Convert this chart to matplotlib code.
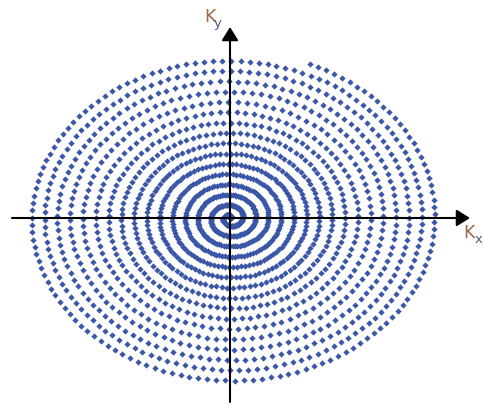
import numpy as np
import matplotlib
matplotlib.use("Agg")
import matplotlib.pyplot as plt

# Spiral k-space trajectory parameters (normalized k-space units)
n_turns = 16.19          # number of revolutions from centre to edge
arc_step = 0.044         # sample spacing along the trajectory (outer region)
max_angle_step = 0.065   # angular step cap (dense centre region)
semi_axis_x = 1.0        # kx extent of the last turn
semi_axis_y = 0.807      # ky extent of the last turn
axis_labels = ["K", "x", "K", "y"]

# Sample the spiral: constant arc length outside, constant angle step near centre
theta_end = 2 * np.pi * n_turns
angles = [0.0]
while angles[-1] < theta_end:
    r = angles[-1] / theta_end
    angles.append(angles[-1] + min(max_angle_step, arc_step / max(r, 1e-9)))
theta = np.array(angles[:-1])
radius = theta / theta_end
kx = semi_axis_x * radius * np.cos(theta)
ky = semi_axis_y * radius * np.sin(theta)

W, H = 484, 405
fig = plt.figure(figsize=(W / 100, H / 100), dpi=100)
ax = fig.add_axes([0, 0, 1, 1])

# pixel scale of one k-space unit and position of the origin
sx = 207.0
cx, cy = 230.0, 218.0
ax.set_xlim(-cx / sx, (W - cx) / sx)
ax.set_ylim(-(H - cy) / sx, cy / sx)
ax.set_aspect("auto")
ax.axis("off")

ax.plot(kx, ky, linestyle="none", marker="D", markersize=3.2,
        markeredgewidth=0, color="#3a56a8", zorder=2)

def px(x, y):
    return ((x - cx) / sx, (cy - y) / sx)

arrow = dict(arrowstyle="-|>,head_length=0.45,head_width=0.28",
             color="black", lw=1.5, mutation_scale=18, shrinkA=0, shrinkB=0)
ax.annotate("", xy=px(470, cy), xytext=px(12, cy), arrowprops=arrow, zorder=3)
ax.annotate("", xy=px(cx, 27), xytext=px(cx, 402), arrowprops=arrow, zorder=3)

font = "DejaVu Sans"
k_color = "#9a6848"
sub_color = "#4a5a8c"
ax.text(*px(463, 238), axis_labels[0], fontsize=12.5, color=k_color,
        family=font, ha="left", va="baseline")
ax.text(*px(475, 243), axis_labels[1], fontsize=9.5, color=sub_color,
        family=font, ha="left", va="baseline")
ax.text(*px(204, 22), axis_labels[2], fontsize=12.5, color=k_color,
        family=font, ha="left", va="baseline")
ax.text(*px(214, 27), axis_labels[3], fontsize=9.5, color=sub_color,
        family=font, ha="left", va="baseline")

fig.savefig("out.png", dpi=100)
